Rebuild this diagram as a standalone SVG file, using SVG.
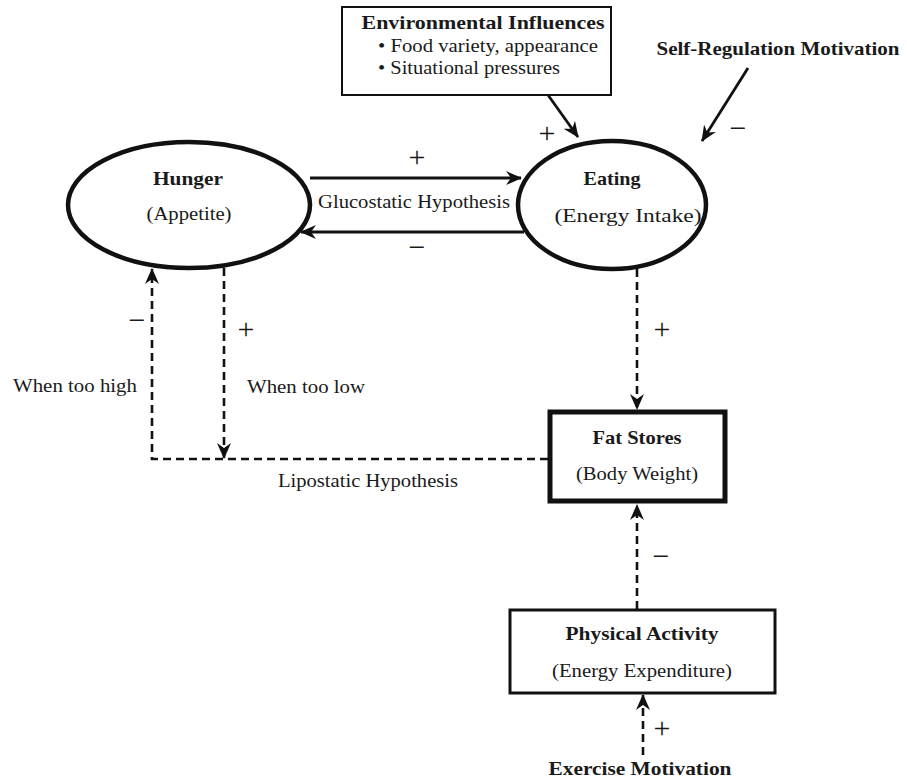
<svg xmlns="http://www.w3.org/2000/svg" width="907" height="779" viewBox="0 0 907 779">
  <defs>
    <marker id="head" viewBox="0 0 16 14" refX="15" refY="7" markerWidth="16" markerHeight="14" markerUnits="userSpaceOnUse" orient="auto">
      <path d="M0,0 L16,7 L0,14 L5,7 Z" fill="#111" stroke="none"/>
    </marker>
  </defs>
  <style>
    text { font-family: "Liberation Serif", "Times New Roman", serif; fill: #1a1a1a; }
    .t { font-size: 19px; text-anchor: middle; }
    .b { font-weight: bold; }
    .sign { font-size: 30px; text-anchor: middle; }
    .node { fill: #fff; stroke: #111; }
    .solid { fill: none; stroke: #111; stroke-width: 2.8; }
    .dash { fill: none; stroke: #111; stroke-width: 2.6; stroke-dasharray: 8 5; }
  </style>
  <rect width="907" height="779" fill="#fff"/>

  <!-- connectors -->
  <g id="connectors">
    <path class="solid" d="M310,178 H521" marker-end="url(#head)"/>
    <path class="solid" d="M524,232 H301" marker-end="url(#head)"/>
    <path class="solid" d="M548,95 L578,137" marker-end="url(#head)"/>
    <path class="solid" d="M748,68 L702,141" marker-end="url(#head)"/>
    <path class="dash" d="M548,459 H152 V269" marker-end="url(#head)"/>
    <path class="dash" d="M224,268 V458" marker-end="url(#head)"/>
    <path class="dash" d="M637,269 V409" marker-end="url(#head)"/>
    <path class="dash" d="M637,609 V505" marker-end="url(#head)"/>
    <path class="dash" d="M643,755 V695" marker-end="url(#head)"/>
  </g>

  <!-- polarity signs and connector labels -->
  <g id="labels">
    <text class="sign" x="417" y="167">+</text>
    <text class="sign" x="417" y="257">−</text>
    <text class="sign" x="547" y="143">+</text>
    <text class="sign" x="738" y="138">−</text>
    <text class="sign" x="137" y="330">−</text>
    <text class="sign" x="246" y="339">+</text>
    <text class="sign" x="662" y="339">+</text>
    <text class="sign" x="661" y="566">−</text>
    <text class="sign" x="662" y="738">+</text>
    <text class="t" x="414" y="208" textLength="192" lengthAdjust="spacingAndGlyphs">Glucostatic Hypothesis</text>
    <text class="t" x="75" y="392" textLength="124" lengthAdjust="spacingAndGlyphs">When too high</text>
    <text class="t" x="306" y="393" textLength="118" lengthAdjust="spacingAndGlyphs">When too low</text>
    <text class="t" x="368" y="487" textLength="180" lengthAdjust="spacingAndGlyphs">Lipostatic Hypothesis</text>
  </g>

  <g id="environment">
    <rect class="node" x="342" y="7" width="269" height="88" stroke-width="2"/>
    <text class="t b" x="483" y="29" textLength="243" lengthAdjust="spacingAndGlyphs">Environmental Influences</text>
    <text x="378" y="52" font-size="19" textLength="220" lengthAdjust="spacingAndGlyphs">• Food variety, appearance</text>
    <text x="378" y="74" font-size="19" textLength="182" lengthAdjust="spacingAndGlyphs">• Situational pressures</text>
  </g>

  <g id="self-regulation">
    <text class="t b" x="778" y="55" textLength="243" lengthAdjust="spacingAndGlyphs">Self-Regulation Motivation</text>
  </g>

  <g id="hunger">
    <ellipse class="node" cx="189" cy="205" rx="121" ry="63" stroke-width="4.5"/>
    <text class="t b" x="188" y="185" textLength="70" lengthAdjust="spacingAndGlyphs">Hunger</text>
    <text class="t" x="189" y="220" textLength="85" lengthAdjust="spacingAndGlyphs">(Appetite)</text>
  </g>

  <g id="eating">
    <ellipse class="node" cx="612" cy="205" rx="94" ry="64" stroke-width="4.5"/>
    <text class="t b" x="612" y="185" textLength="57" lengthAdjust="spacingAndGlyphs">Eating</text>
    <text class="t" x="628" y="222" textLength="147" lengthAdjust="spacingAndGlyphs">(Energy Intake)</text>
  </g>

  <g id="fat-stores">
    <rect class="node" x="550" y="412" width="175" height="89" stroke-width="5"/>
    <text class="t b" x="637" y="444" textLength="89" lengthAdjust="spacingAndGlyphs">Fat Stores</text>
    <text class="t" x="637" y="480" textLength="122" lengthAdjust="spacingAndGlyphs">(Body Weight)</text>
  </g>

  <g id="physical-activity">
    <rect class="node" x="510" y="610" width="265" height="83" stroke-width="3"/>
    <text class="t b" x="642" y="640" textLength="153" lengthAdjust="spacingAndGlyphs">Physical Activity</text>
    <text class="t" x="642" y="677" textLength="180" lengthAdjust="spacingAndGlyphs">(Energy Expenditure)</text>
  </g>

  <g id="exercise-motivation">
    <text class="t b" x="640" y="775" textLength="183" lengthAdjust="spacingAndGlyphs">Exercise Motivation</text>
  </g>
</svg>
